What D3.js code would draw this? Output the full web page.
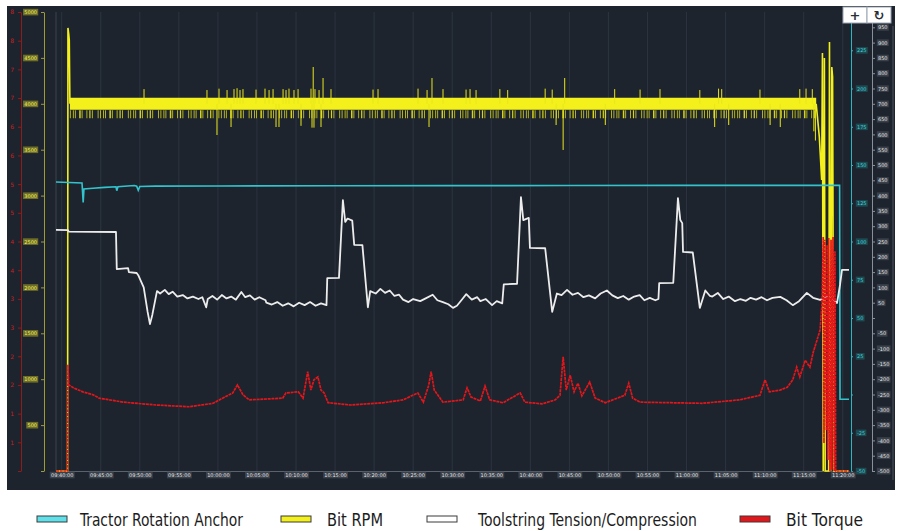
<!DOCTYPE html>
<html>
<head>
<meta charset="utf-8">
<script src="https://cdn.jsdelivr.net/npm/d3@7"></script>
<style>
  body { margin: 0; background: #ffffff; }
</style>
</head>
<body>
<div class="chart"></div>
<script>
// ---- data: [minutes after 09:40:00, value] ----
var startTime = "09:40:00";

var timeTicks = ["09:40:00", "09:45:00", "09:50:00", "09:55:00", "10:00:00", "10:05:00", "10:10:00",
  "10:15:00", "10:20:00", "10:25:00", "10:30:00", "10:35:00", "10:40:00", "10:45:00", "10:50:00",
  "10:55:00", "11:00:00", "11:05:00", "11:10:00", "11:15:00", "11:20:00"];

var rpmTicks = [0, 500, 1000, 1500, 2000, 2500, 3000, 3500, 4000, 4500, 5000];
var torqueTicks = [0, 0.5, 1, 1.5, 2, 2.5, 3, 3.5, 4, 4.5, 5, 5.5, 6, 6.5, 7, 7.5, 8];
var anchorTicks = [-50, -25, 0, 25, 50, 75, 100, 125, 150, 175, 200, 225, 250];
var tensionTicks = [-500, -450, -400, -350, -300, -250, -200, -150, -100, -50, 0, 50, 100, 150, 200,
  250, 300, 350, 400, 450, 500, 550, 600, 650, 700, 750, 800, 850, 900, 950, 1000];

// Tractor Rotation Anchor
var anchorData = [[-0.73, 138.9], [2.6, 138.2], [2.75, 125.5], [2.85, 134.3], [4.0, 134.8], [5.5, 135.4],
  [6.95, 135.8], [7.05, 133.2], [7.2, 135.8], [9.3, 136.6], [9.6, 136.2], [9.8, 133.5], [10.0, 136.0],
  [12, 136.2], [20, 136.3], [35, 136.4], [50, 136.5], [65, 136.6], [80, 136.7], [99.6, 136.7],
  [99.65, -3.1], [100.8, -3.1]];

// Bit RPM: thin trace (start and end), steady band, and the spikes off the band
var rpmStart = [[-0.73, 0], [0.75, 0], [0.8, 4826], [0.9, 4760], [0.97, 4695], [1.05, 4000]];
var rpmEnd = [[96.6, 4000], [97.0, 3640], [97.3, 3170], [97.4, 4553], [97.5, 0], [97.65, 4500],
  [97.75, 0], [98.2, 0], [98.3, 4673], [98.45, 0], [98.6, 4400], [98.7, 4292], [98.85, 0], [100.8, 0]];
var rpmBand = [[1.05, 4000], [96.6, 4000]];
var rpmSpikes = [[10.54, 4160], [18.6, 4150], [19.88, 3660], [20.14, 4165], [21.17, 4150], [21.68, 3747],
  [22.06, 4160], [22.45, 4170], [22.83, 4150], [23.21, 4160], [24.88, 4155], [26.03, 4165], [26.55, 4150],
  [27.06, 4160], [27.44, 3747], [27.82, 3747], [28.34, 4160], [28.72, 4150], [29.1, 4165], [29.74, 4150],
  [30.26, 4160], [30.64, 3760], [31.92, 4165], [32.05, 3740], [32.2, 4401], [32.3, 3740], [32.43, 4160],
  [32.95, 4150], [33.2, 3747], [33.46, 4281], [34.48, 4160], [39.86, 4155], [40.5, 4160], [45.62, 4165],
  [46.78, 4150], [47.03, 3747], [47.41, 4281], [48.82, 4160], [51.77, 4155], [52.28, 4160], [53.05, 4150],
  [56.1, 4160], [57.1, 4150], [61.9, 4165], [62.8, 4155], [63.3, 3769], [64.2, 3497], [64.4, 4281],
  [69.6, 3769], [70.8, 4160], [74.05, 4155], [76.6, 4160], [81.7, 4150], [83.6, 3747], [84.1, 4165],
  [84.5, 4160], [85.4, 3769], [89.4, 4155], [90.7, 3769], [92.0, 3747], [94.5, 4160], [95.3, 4165],
  [96.1, 4160], [96.3, 3700], [96.5, 3600]];

// Toolstring Tension/Compression
var tensionData = [[-0.73, 288], [0.8, 287], [0.9, 282], [6.95, 281], [7.05, 160], [8.5, 163], [8.6, 150],
  [9.6, 147], [9.8, 140], [10.5, 100], [11.0, 20], [11.3, -20], [11.6, 10], [12.2, 88], [12.6, 80],
  [13.2, 92], [13.7, 78], [14.2, 86], [14.8, 70], [15.5, 75], [16.1, 64], [16.8, 70], [17.5, 62],
  [18.0, 68], [18.5, 35], [18.7, 62], [19.3, 72], [19.9, 60], [20.5, 75], [21.1, 64], [21.7, 70],
  [22.3, 60], [23.0, 85], [23.5, 68], [24.1, 74], [24.7, 60], [25.3, 68], [26.1, 58], [26.2, 50],
  [26.9, 44], [27.6, 52], [28.3, 40], [29.0, 48], [29.7, 38], [30.4, 50], [31.1, 42], [31.8, 52],
  [32.5, 40], [33.2, 48], [33.9, 42], [34.0, 130], [35.5, 131], [36.0, 385], [36.3, 314], [36.6, 325],
  [37.2, 318], [37.45, 239], [38.5, 238], [39.2, 35], [39.5, 88], [40.2, 80], [40.8, 95], [41.4, 82],
  [42.0, 90], [42.6, 72], [43.2, 76], [43.7, 60], [44.4, 52], [45.0, 62], [45.9, 55], [46.6, 64],
  [47.5, 76], [48.1, 58], [48.8, 52], [49.5, 45], [50.1, 33], [50.6, 40], [51.3, 62], [51.8, 78],
  [52.5, 60], [53.2, 68], [53.6, 55], [54.3, 62], [55.1, 42], [55.7, 55], [56.4, 48], [56.6, 110],
  [58.3, 112], [58.8, 395], [59.1, 320], [59.8, 327], [59.95, 229], [61.9, 228], [62.8, 20], [63.4, 80],
  [64.0, 75], [64.7, 92], [65.4, 76], [66.1, 82], [66.8, 68], [67.5, 74], [68.3, 64], [69.0, 80],
  [69.8, 90], [70.5, 74], [71.2, 65], [71.9, 72], [72.6, 60], [73.3, 70], [74.0, 75], [74.6, 58],
  [75.3, 66], [76.0, 58], [76.4, 62], [76.5, 114], [78.3, 115], [78.9, 392], [79.2, 320], [79.45, 310],
  [79.55, 216], [80.8, 214], [81.7, 33], [82.4, 90], [83.0, 72], [83.3, 70], [84.0, 82], [84.7, 62],
  [85.4, 70], [86.2, 55], [86.9, 62], [87.6, 56], [88.2, 66], [88.9, 60], [89.6, 68], [90.3, 58],
  [91.0, 66], [92.0, 69], [92.8, 58], [93.6, 42], [94.4, 55], [95.4, 82], [96.2, 66], [97.1, 59],
  [98.0, 69], [98.8, 59], [99.27, 49], [99.65, 108], [99.9, 157], [100.8, 157]];

// Bit Torque
var torqueData = [[-0.73, 0], [0.75, 0], [0.8, 1.85], [0.9, 1.50], [1.5, 1.45], [2.7, 1.38], [4.0, 1.33],
  [4.8, 1.27], [7.9, 1.20], [12.1, 1.15], [16.3, 1.12], [19.4, 1.18], [20.6, 1.27], [21.9, 1.36],
  [22.5, 1.50], [23.2, 1.33], [24.0, 1.24], [27.0, 1.26], [28.3, 1.27], [28.7, 1.36], [30.3, 1.38],
  [30.9, 1.27], [31.5, 1.73], [31.9, 1.41], [32.3, 1.59], [32.8, 1.64], [33.2, 1.41], [33.6, 1.36],
  [34.1, 1.19], [37.0, 1.15], [41.2, 1.19], [43.7, 1.24], [45.6, 1.36], [46.3, 1.20], [47.0, 1.50],
  [47.3, 1.73], [47.7, 1.41], [48.8, 1.20], [51.4, 1.24], [51.9, 1.45], [52.4, 1.29], [53.6, 1.22],
  [54.2, 1.48], [54.8, 1.24], [56.5, 1.19], [58.7, 1.36], [59.3, 1.20], [61.5, 1.17], [63.2, 1.24],
  [63.8, 1.32], [64.2, 1.99], [64.6, 1.41], [65.1, 1.67], [65.6, 1.38], [66.1, 1.53], [66.6, 1.31],
  [67.6, 1.55], [68.3, 1.27], [69.6, 1.19], [72.1, 1.32], [72.6, 1.53], [73.1, 1.27], [74.05, 1.20],
  [78.0, 1.19], [82.0, 1.18], [86.8, 1.24], [89.4, 1.32], [90.05, 1.59], [90.6, 1.38], [91.98, 1.41],
  [92.9, 1.46], [93.6, 1.59], [94.1, 1.81], [94.5, 1.64], [95.2, 1.93], [95.8, 1.81], [96.2, 2.06],
  [96.7, 2.28], [97.1, 2.46], [97.35, 2.93], [97.5, 4.08], [97.6, 0.49], [97.7, 4.03], [97.9, 0.71],
  [98.0, 3.94], [98.1, 0.19], [98.2, 4.06], [98.37, 0], [98.5, 4.03], [98.6, 0.02], [98.76, 4.08],
  [98.9, 0], [99.0, 3.83], [99.1, 0], [100.8, 0]];

// ---- layout ----
var svgWidth = 900;
var svgHeight = 531;
var plot = { left: 56, right: 849, top: 12, bottom: 471 };

var svg = d3.select(".chart")
  .append("svg")
  .attr("width", svgWidth)
  .attr("height", svgHeight);

svg.append("rect")
  .attr("width", svgWidth)
  .attr("height", svgHeight)
  .attr("fill", "#ffffff");

// dark panel
svg.append("rect")
  .attr("x", 7)
  .attr("y", 6)
  .attr("width", 888)
  .attr("height", 484)
  .attr("fill", "#1d242e");

var parseTime = d3.timeParse("%H:%M:%S");
var base = parseTime(startTime);
function toDate(m) { return new Date(base.getTime() + m * 60000); }

var xScale = d3.scaleTime()
  .domain([toDate(-0.73), toDate(100.8)])
  .range([plot.left, plot.right]);

var yRpm = d3.scaleLinear().domain([0, 5000]).range([plot.bottom, plot.top]);
var yTorque = d3.scaleLinear().domain([0, 8]).range([plot.bottom, plot.top]);
var yAnchor = d3.scaleLinear().domain([-50, 250]).range([plot.bottom, plot.top]);
var yTension = d3.scaleLinear().domain([-500, 1000]).range([plot.bottom, plot.top]);

var timeDates = timeTicks.map(function(t) { return parseTime(t); });

// vertical grid lines
svg.append("g")
  .selectAll("line")
  .data(timeDates)
  .enter()
  .append("line")
  .attr("x1", d => xScale(d))
  .attr("x2", d => xScale(d))
  .attr("y1", plot.top)
  .attr("y2", plot.bottom)
  .attr("stroke", "#2c3440")
  .attr("stroke-width", 1);

svg.append("line")
  .attr("x1", plot.left).attr("x2", plot.left)
  .attr("y1", plot.top).attr("y2", plot.bottom)
  .attr("stroke", "#3a424d");

// faint edge line on the right of the panel
svg.append("line")
  .attr("x1", 893).attr("x2", 893)
  .attr("y1", 26).attr("y2", 480)
  .attr("stroke", "#8d949c")
  .attr("stroke-opacity", 0.45);

// put a small box behind each tick label
function boxLabels(g, boxColor) {
  g.selectAll(".tick").each(function() {
    var t = d3.select(this).select("text");
    if (!t.text()) return;
    var b = t.node().getBBox();
    d3.select(this).insert("rect", "text")
      .attr("x", b.x - 1.2)
      .attr("y", b.y - 0.3)
      .attr("width", b.width + 2.4)
      .attr("height", b.height + 0.6)
      .attr("fill", boxColor);
  });
}

function styleAxis(g, lineColor, textColor, boxColor) {
  g.attr("font-family", "DejaVu Sans").attr("font-size", 5);
  g.select(".domain").attr("stroke", lineColor);
  g.selectAll(".tick line").attr("stroke", lineColor);
  g.selectAll(".tick text").attr("fill", textColor);
  if (boxColor) boxLabels(g, boxColor);
}

// zero labels are not shown; labels under the buttons are left out too
function hideSome(fmt, skip) {
  return function(d) { return (d === 0 || d === skip) ? "" : fmt(d); };
}

// red torque axis (far left)
var torqueAxis = svg.append("g")
  .attr("transform", "translate(21,0)")
  .call(d3.axisLeft(yTorque).tickValues(torqueTicks).tickSize(3).tickSizeOuter(0).tickPadding(4)
    .tickFormat(hideSome(d => Math.round(d))));
styleAxis(torqueAxis, "#8e1c1c", "#c42222", null);
torqueAxis.attr("font-size", 6);

// yellow rpm axis
var rpmAxis = svg.append("g")
  .attr("transform", "translate(44,0)")
  .call(d3.axisLeft(yRpm).tickValues(rpmTicks).tickSize(3).tickSizeOuter(0).tickPadding(4)
    .tickFormat(hideSome(d => d)));
styleAxis(rpmAxis, "#9c9c3a", "#f2f25a", "#6e6e2a");

// cyan anchor axis
var anchorAxis = svg.append("g")
  .attr("transform", "translate(851,0)")
  .call(d3.axisRight(yAnchor).tickValues(anchorTicks).tickSize(2).tickSizeOuter(0).tickPadding(4)
    .tickFormat(hideSome(d => d, 250)));
styleAxis(anchorAxis, "#2bb7c0", "#3fd0d8", "#1e4a52");

// white tension axis
var tensionAxis = svg.append("g")
  .attr("transform", "translate(872,0)")
  .call(d3.axisRight(yTension).tickValues(tensionTicks).tickSize(3).tickSizeOuter(0).tickPadding(3)
    .tickFormat(hideSome(d => d, 1000)));
styleAxis(tensionAxis, "#8a9099", "#e6e6e6", "#3a414b");

// time axis
var timeAxis = svg.append("g")
  .attr("transform", `translate(0, ${plot.bottom})`)
  .call(d3.axisBottom(xScale).tickValues(timeDates).tickSize(0).tickSizeOuter(0).tickPadding(2.5)
    .tickFormat(d3.timeFormat("%H:%M:%S")));
styleAxis(timeAxis, "#5a626d", "#e6e6e6", "#3a414b");

// ---- series ----
function lineFor(yScale) {
  return d3.line()
    .x(d => xScale(toDate(d[0])))
    .y(d => yScale(d[1]));
}

// Bit RPM band with its comb of short drops underneath
svg.append("path")
  .datum(rpmBand)
  .attr("d", lineFor(yRpm))
  .attr("fill", "none")
  .attr("stroke", "#f3f01c")
  .attr("stroke-width", 12);

svg.append("path")
  .datum(rpmBand)
  .attr("d", lineFor(yRpm))
  .attr("transform", "translate(0,10.5)")
  .attr("fill", "none")
  .attr("stroke", "#d8d41a")
  .attr("stroke-width", 8)
  .attr("stroke-dasharray", "0.8 2.2 0.8 1.2 0.8 3.5 1.5 1 0.8 4 0.8 2 1.2 1.4 0.8 5 0.8 1.6");

svg.append("g")
  .selectAll("line")
  .data(rpmSpikes)
  .enter()
  .append("line")
  .attr("x1", d => xScale(toDate(d[0])))
  .attr("x2", d => xScale(toDate(d[0])))
  .attr("y1", yRpm(4000))
  .attr("y2", d => yRpm(d[1]))
  .attr("stroke", "#e9e61c")
  .attr("stroke-width", 1);

[rpmStart, rpmEnd].forEach(function(part) {
  svg.append("path")
    .datum(part)
    .attr("d", lineFor(yRpm))
    .attr("fill", "none")
    .attr("stroke", "#f3f01c")
    .attr("stroke-width", 1.6);
});

svg.append("path")
  .datum(anchorData)
  .attr("d", lineFor(yAnchor))
  .attr("fill", "none")
  .attr("stroke", "#33c3cc")
  .attr("stroke-width", 1.6);

svg.append("path")
  .datum(tensionData)
  .attr("d", lineFor(yTension))
  .attr("fill", "none")
  .attr("stroke", "#ececec")
  .attr("stroke-width", 1.8)
  .attr("stroke-linejoin", "round");

svg.append("path")
  .datum(torqueData)
  .attr("d", lineFor(yTorque))
  .attr("fill", "none")
  .attr("stroke", "#e3161b")
  .attr("stroke-width", 1.7)
  .attr("stroke-dasharray", "3 0.7");

// ---- zoom / reset buttons ----
var buttons = [{ x: 843, label: "+" }, { x: 867, label: "\u21bb" }];
var btn = svg.append("g")
  .selectAll("g")
  .data(buttons)
  .enter()
  .append("g");
btn.append("rect")
  .attr("x", d => d.x)
  .attr("y", 7)
  .attr("width", 24)
  .attr("height", 16)
  .attr("fill", "#ffffff")
  .attr("stroke", "#9aa4b0");
btn.append("text")
  .attr("x", d => d.x + 12)
  .attr("y", 19.5)
  .attr("text-anchor", "middle")
  .attr("font-family", "DejaVu Sans")
  .attr("font-weight", "bold")
  .attr("font-size", 13)
  .attr("fill", "#2a2f36")
  .text(d => d.label);

// ---- legend ----
var legendNames = ["Tractor Rotation Anchor", "Bit RPM", "Toolstring Tension/Compression", "Bit Torque"];
var legendColors = ["#5fe0ea", "#f3f01c", "#ffffff", "#e3161b"];
var swatchX = [37, 281, 427, 740];
var textX = [80, 327, 478, 786];
var textLen = [163, 56, 219, 77];

var legend = svg.append("g");
legendNames.forEach(function(name, i) {
  legend.append("rect")
    .attr("x", swatchX[i])
    .attr("y", 516)
    .attr("width", 30)
    .attr("height", 6)
    .attr("fill", legendColors[i])
    .attr("stroke", "#3a3a3a")
    .attr("stroke-width", 1);
  legend.append("text")
    .attr("x", textX[i])
    .attr("y", 526)
    .attr("font-family", "Liberation Sans Narrow, DejaVu Sans Condensed, sans-serif")
    .attr("font-size", 18)
    .attr("textLength", textLen[i])
    .attr("lengthAdjust", "spacingAndGlyphs")
    .attr("fill", "#1c1c1c")
    .text(name);
});
</script>
</body>
</html>
